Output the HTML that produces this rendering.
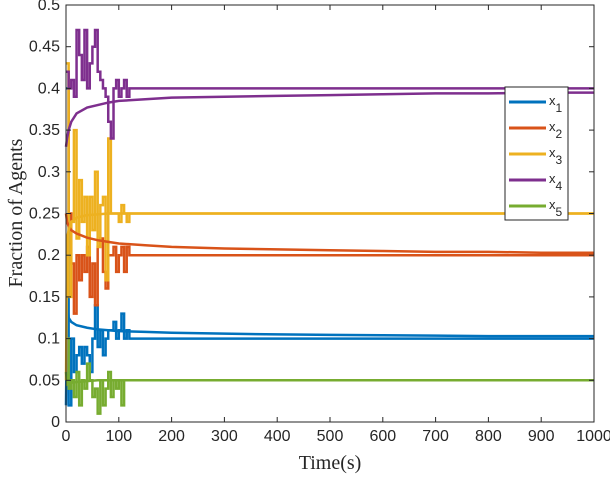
<!DOCTYPE html>
<html><head><meta charset="utf-8"><style>
body{margin:0;background:#fff}
svg text{font-family:"Liberation Sans",sans-serif;fill:#262626}
</style></head><body>
<svg id="chart" width="610" height="474" xmlns="http://www.w3.org/2000/svg"></svg>
<script>
const noisyT=[0,5,10,15,20,25,30,35,40,45,50,55,60,65,70,75,80,85,90,95,100,105,110,115,120];
const x1n=[0.40,0.02,0.10,0.06,0.08,0.09,0.07,0.09,0.08,0.06,0.10,0.14,0.09,0.11,0.08,0.10,0.11,0.11,0.12,0.10,0.11,0.13,0.10,0.11,0.10];
const x2n=[0.42,0.25,0.19,0.13,0.20,0.17,0.20,0.18,0.21,0.15,0.19,0.14,0.21,0.22,0.18,0.16,0.20,0.20,0.21,0.18,0.20,0.21,0.18,0.21,0.20];
const x3n=[0.43,0.15,0.24,0.35,0.22,0.29,0.24,0.27,0.20,0.27,0.23,0.30,0.21,0.26,0.27,0.17,0.34,0.25,0.25,0.25,0.24,0.26,0.25,0.24,0.25];
const x4n=[0.42,0.40,0.41,0.39,0.47,0.44,0.41,0.47,0.40,0.43,0.45,0.47,0.42,0.41,0.40,0.39,0.36,0.34,0.40,0.41,0.39,0.40,0.41,0.39,0.40];
const x5n=[0.10,0.04,0.05,0.03,0.06,0.02,0.05,0.04,0.07,0.05,0.03,0.04,0.01,0.05,0.02,0.04,0.06,0.03,0.05,0.04,0.05,0.02,0.05,0.05,0.05];
const smoothT=[0,2,5,10,20,40,60,80,100,150,200,300,400,500,600,700,800,900,1000];
const x1s=[0.02,0.15,0.125,0.12,0.116,0.113,0.111,0.110,0.109,0.108,0.107,0.106,0.105,0.1045,0.104,0.1035,0.103,0.103,0.103];
const x2s=[0.25,0.24,0.235,0.23,0.226,0.221,0.218,0.216,0.214,0.212,0.21,0.208,0.207,0.206,0.205,0.204,0.204,0.203,0.203];
const x3s=[0.05,0.22,0.23,0.24,0.245,0.248,0.249,0.25,0.25,0.25,0.25,0.25,0.25,0.25,0.25,0.25,0.25,0.25,0.25];
const x4s=[0.33,0.34,0.35,0.36,0.37,0.377,0.38,0.383,0.385,0.387,0.389,0.39,0.391,0.392,0.393,0.394,0.394,0.395,0.395];
const x5s=[0.06,0.045,0.046,0.047,0.048,0.049,0.05,0.05,0.05,0.05,0.05,0.05,0.05,0.05,0.05,0.05,0.05,0.05,0.05];
const xTicks=[0,100,200,300,400,500,600,700,800,900,1000];
const yTicks=[0,0.05,0.1,0.15,0.2,0.25,0.3,0.35,0.4,0.45,0.5];
const yTickLabels=["0","0.05","0.1","0.15","0.2","0.25","0.3","0.35","0.4","0.45","0.5"];
const seriesNames=["1","2","3","4","5"];
const colors=["#0072BD","#D95319","#EDB120","#7E2F8E","#77AC30"];

const L=66,R=594,T=5,B=422;
const sx=v=>L+(v/1000)*(R-L);
const sy=v=>B-(v/0.5)*(B-T);
const svg=document.getElementById('chart');
const NS="http://www.w3.org/2000/svg";
function mk(tag,attrs){const e=document.createElementNS(NS,tag);for(const k in attrs)e.setAttribute(k,attrs[k]);svg.appendChild(e);return e;}

const noisy=[x1n,x2n,x3n,x4n,x5n], smooth=[x1s,x2s,x3s,x4s,x5s];
noisy.forEach((arr,i)=>{
  let d="M"+sx(noisyT[0])+","+sy(arr[0]);
  for(let j=1;j<arr.length;j++){d+=" H"+sx(noisyT[j])+" V"+sy(arr[j]);}
  d+=" H"+sx(1000);
  const p=mk('path',{d:d,fill:'none',stroke:colors[i],'stroke-width':2.5});
  
  
});
smooth.forEach((arr,i)=>{
  const d=arr.map((v,j)=>(j?"L":"M")+sx(smoothT[j])+","+sy(v)).join(" ");
  const p=mk('path',{d:d,fill:'none',stroke:colors[i],'stroke-width':2.5});
  
  
});
const box=mk('rect',{x:L,y:T,width:R-L,height:B-T,fill:'none',stroke:'#262626','stroke-width':1});


xTicks.forEach(v=>{
  mk('line',{x1:sx(v),x2:sx(v),y1:B,y2:B-5,stroke:'#262626'});
  mk('line',{x1:sx(v),x2:sx(v),y1:T,y2:T+5,stroke:'#262626'});
  const t=mk('text',{x:sx(v),y:B+19,'text-anchor':'middle','font-size':16});
  t.textContent=v;
  
  
});
yTicks.forEach((v,i)=>{
  mk('line',{x1:L,x2:L+5,y1:sy(v),y2:sy(v),stroke:'#262626'});
  mk('line',{x1:R,x2:R-5,y1:sy(v),y2:sy(v),stroke:'#262626'});
  const t=mk('text',{x:L-6,y:sy(v)+5,'text-anchor':'end','font-size':16});
  t.textContent=yTickLabels[i];
  
  
});
const xt=mk('text',{x:(L+R)/2,y:469,'text-anchor':'middle','font-size':20,style:'font-family:"Liberation Serif",serif'});
xt.textContent="Time(s)";


const yt=mk('text',{x:0,y:0,'text-anchor':'middle','font-size':20,transform:'translate(22,213) rotate(-90)',style:'font-family:"Liberation Serif",serif'});
yt.textContent="Fraction of Agents";


const lg=mk('rect',{x:505,y:87,width:63,height:133,fill:'#fff',stroke:'#262626','stroke-width':1});


seriesNames.forEach((n,i)=>{
  const y=102+i*26;
  const l=mk('line',{x1:509,x2:546,y1:y,y2:y,stroke:colors[i],'stroke-width':3});
  
  
  const t=mk('text',{x:549,y:y+3,'font-size':13});
  t.textContent="x";
  const s=document.createElementNS(NS,'tspan');
  s.setAttribute('dy','7');s.setAttribute('font-size','12');
  s.textContent=n;t.appendChild(s);
  
  
});
</script>
</body></html>
